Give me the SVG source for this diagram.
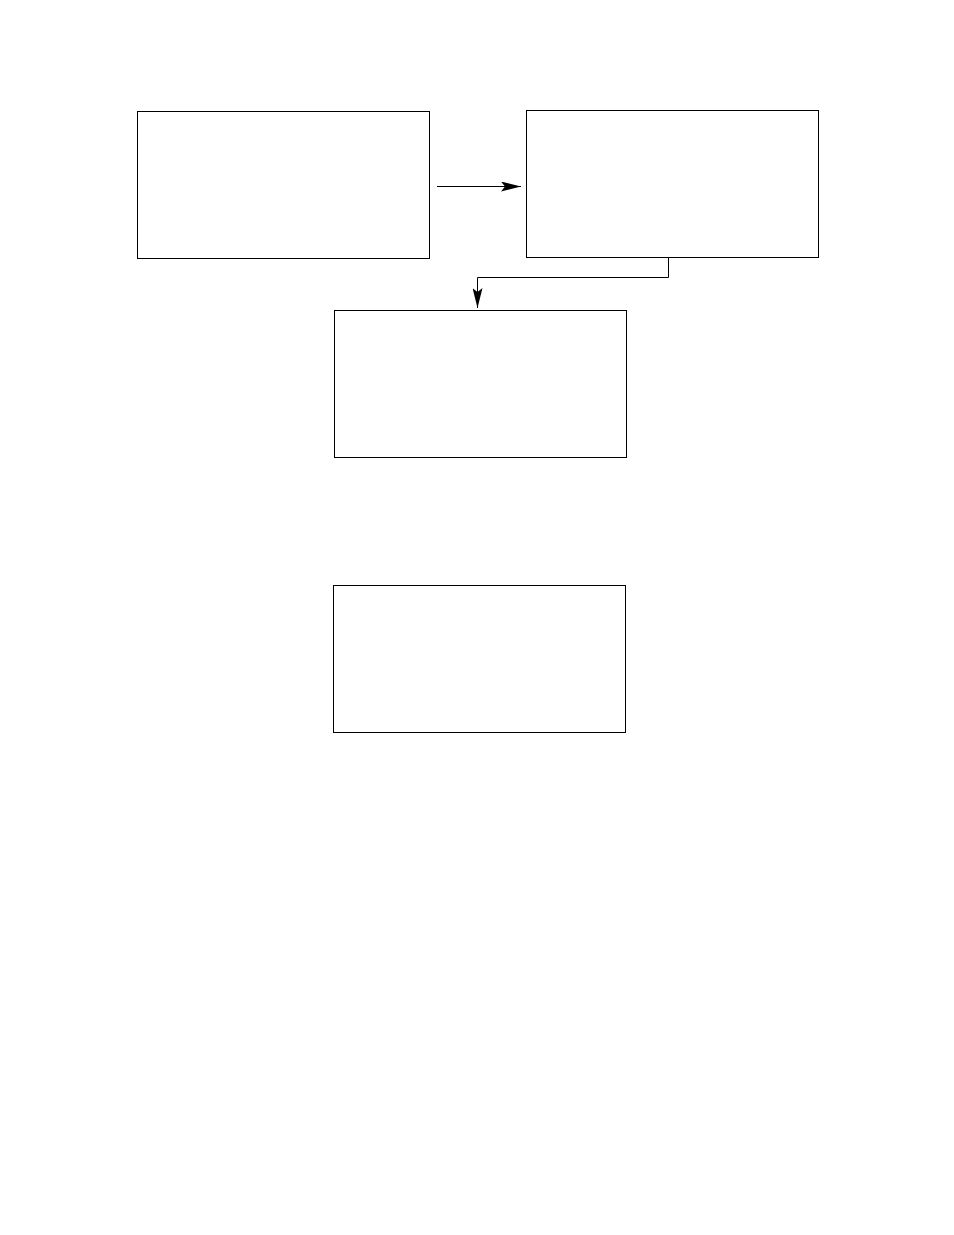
<svg xmlns="http://www.w3.org/2000/svg" width="954" height="1235" viewBox="0 0 954 1235">
<style>
.box{fill:#fff;stroke:#000;stroke-width:1}
.edge{fill:none;stroke:#000;stroke-width:1}
</style>
<defs>
<marker id="ah" viewBox="0 0 20 10" refX="20" refY="5" markerWidth="20" markerHeight="10" markerUnits="userSpaceOnUse" orient="auto">
<path d="M0,0 L20,5 L0,10 L4,5 Z" fill="#000"/>
</marker>
</defs>
<rect width="954" height="1235" fill="#fff"/>
<g id="node1"><rect class="box" x="137.5" y="111.5" width="292" height="147"/></g>
<g id="node2"><rect class="box" x="526.5" y="110.5" width="292" height="147"/></g>
<g id="node3"><rect class="box" x="334.5" y="310.5" width="292" height="147"/></g>
<g id="node4"><rect class="box" x="333.5" y="585.5" width="292" height="147"/></g>
<g id="connectors">
<line class="edge" x1="437" y1="186.5" x2="521" y2="186.5" marker-end="url(#ah)"/>
<polyline class="edge" points="668.5,257 668.5,277.5 477.5,277.5 477.5,308" marker-end="url(#ah)"/>
</g>
</svg>
